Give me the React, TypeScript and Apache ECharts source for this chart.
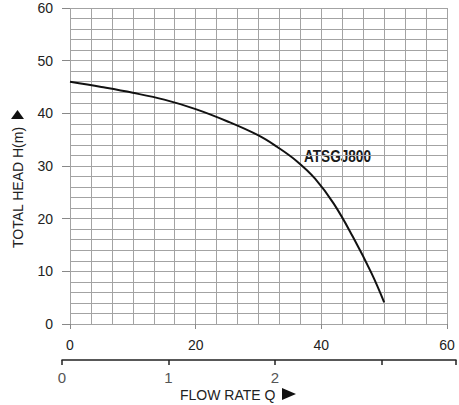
import React, { useEffect, useRef } from 'react';
import * as echarts from 'echarts';

// pump curve: flow (x), head in metres (y)
const flowValues = [0, 5, 10, 15, 20, 25, 30, 33, 36, 39, 42, 45, 48, 50];
const headValues = [46, 45, 43.9, 42.6, 40.8, 38.5, 35.8, 33.6, 31, 27.6, 22.8, 16.6, 9.6, 4.1];
const modelName = 'ATSGJ800';
const lowerTicks = ['0', '1', '2', ''];

const FONT = '"Liberation Sans", Arial, sans-serif';

const App: React.FC = () => {
  const chartRef = useRef<HTMLDivElement>(null);

  useEffect(() => {
    const chart = echarts.init(chartRef.current!, undefined, { renderer: 'svg' });

    const option = {
      animation: false,
      backgroundColor: '#fff',
      grid: [
        { left: 70, top: 8, width: 377, height: 316 },
        { left: 62, right: 0, top: 359, height: 1 },
      ],
      xAxis: [
        {
          type: 'value',
          gridIndex: 0,
          min: 0,
          max: 60,
          interval: 20,
          axisLine: { show: false },
          axisTick: { show: true, length: 5, lineStyle: { color: '#888' } },
          axisLabel: { margin: 14, color: '#222', fontSize: 14, fontFamily: FONT },
          splitLine: { show: true, lineStyle: { color: '#a3a3a3', width: 1 } },
          minorTick: { show: false, splitNumber: 6 },
          minorSplitLine: { show: true, lineStyle: { color: '#a3a3a3', width: 1 } },
        },
        {
          type: 'value',
          gridIndex: 1,
          min: 0,
          max: 3.7,
          interval: 1,
          position: 'bottom',
          axisLine: { show: true, lineStyle: { color: '#222', width: 1.5 } },
          axisTick: { show: true, length: 5, lineStyle: { color: '#222', width: 1.5 } },
          axisLabel: {
            margin: 10,
            color: '#555',
            fontSize: 15,
            fontFamily: FONT,
            formatter: (v: number) => lowerTicks[Math.round(v)] ?? '',
          },
          splitLine: { show: false },
        },
      ],
      yAxis: [
        {
          type: 'value',
          gridIndex: 0,
          min: 0,
          max: 60,
          interval: 10,
          axisLine: { show: false },
          axisTick: { show: true, length: 8, lineStyle: { color: '#888' } },
          axisLabel: { margin: 17, color: '#222', fontSize: 14, fontFamily: FONT },
          splitLine: { show: true, lineStyle: { color: '#a3a3a3', width: 1 } },
          minorTick: { show: false, splitNumber: 5 },
          minorSplitLine: { show: true, lineStyle: { color: '#a3a3a3', width: 1 } },
        },
        { type: 'value', gridIndex: 1, min: 0, max: 1, show: false },
      ],
      series: [
        {
          type: 'line',
          xAxisIndex: 0,
          yAxisIndex: 0,
          data: flowValues.map((q, i) => [q, headValues[i]]),
          smooth: 0.4,
          showSymbol: false,
          lineStyle: { color: '#111', width: 2 },
        },
      ],
      graphic: [
        {
          type: 'text',
          x: 304,
          y: 157,
          scaleX: 0.85,
          style: {
            text: modelName,
            font: `bold 16px ${FONT}`,
            fill: '#1a1a1a',
            verticalAlign: 'middle',
          },
        },
        {
          type: 'text',
          x: 18,
          y: 248,
          rotation: Math.PI / 2,
          style: {
            text: 'TOTAL HEAD H(m)',
            font: `14px ${FONT}`,
            fill: '#222',
            align: 'left',
            verticalAlign: 'middle',
          },
        },
        {
          type: 'polygon',
          shape: { points: [[11, 119], [24, 119], [17.5, 110]] },
          style: { fill: '#111' },
        },
        {
          type: 'text',
          left: 180,
          top: 388,
          style: {
            text: 'FLOW RATE Q',
            font: `14px ${FONT}`,
            fill: '#222',
          },
        },
        {
          type: 'polygon',
          shape: { points: [[282, 388], [282, 400], [296, 394]] },
          style: { fill: '#111' },
        },
      ],
    };

    chart.setOption(option);

    return () => {
      chart.dispose();
    };
  }, []);

  return <div ref={chartRef} style={{ width: 459, height: 405, position: 'absolute', left: 0, top: 0 }} />;
};

export default App;
